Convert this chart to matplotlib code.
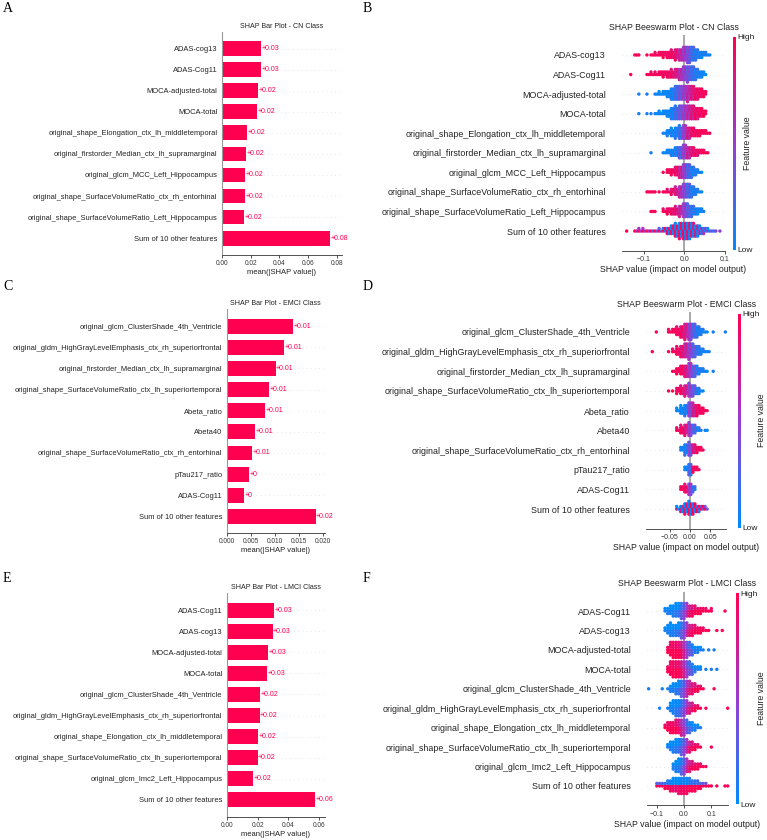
import numpy as np
import matplotlib
matplotlib.use("Agg")
import matplotlib.pyplot as plt
from matplotlib.colors import LinearSegmentedColormap
from matplotlib.cm import ScalarMappable

plt.rcParams['font.family'] = ['Liberation Sans', 'DejaVu Sans']

RED = '#ff0051'
shap_cmap = LinearSegmentedColormap.from_list('shap_rb', ['#008bfb', '#9a3bd0', '#ff0052'])

# ---------------- data: bar plots (mean |SHAP|) ----------------
cn_bar_features = ['ADAS-cog13', 'ADAS-Cog11', 'MOCA-adjusted-total', 'MOCA-total',
                   'original_shape_Elongation_ctx_lh_middletemporal',
                   'original_firstorder_Median_ctx_lh_supramarginal',
                   'original_glcm_MCC_Left_Hippocampus',
                   'original_shape_SurfaceVolumeRatio_ctx_rh_entorhinal',
                   'original_shape_SurfaceVolumeRatio_Left_Hippocampus',
                   'Sum of 10 other features']
cn_bar_values = [0.0272, 0.0270, 0.0249, 0.0247, 0.0178, 0.0166, 0.0161, 0.0159, 0.0157, 0.0752]

emci_bar_features = ['original_glcm_ClusterShade_4th_Ventricle',
                     'original_gldm_HighGrayLevelEmphasis_ctx_rh_superiorfrontal',
                     'original_firstorder_Median_ctx_lh_supramarginal',
                     'original_shape_SurfaceVolumeRatio_ctx_lh_superiortemporal',
                     'Abeta_ratio', 'Abeta40',
                     'original_shape_SurfaceVolumeRatio_ctx_rh_entorhinal',
                     'pTau217_ratio', 'ADAS-Cog11', 'Sum of 10 other features']
emci_bar_values = [0.01375, 0.0120, 0.0102, 0.00875, 0.0080, 0.0059, 0.00535, 0.00458, 0.0037, 0.01854]

lmci_bar_features = ['ADAS-Cog11', 'ADAS-cog13', 'MOCA-adjusted-total', 'MOCA-total',
                     'original_glcm_ClusterShade_4th_Ventricle',
                     'original_gldm_HighGrayLevelEmphasis_ctx_rh_superiorfrontal',
                     'original_shape_Elongation_ctx_lh_middletemporal',
                     'original_shape_SurfaceVolumeRatio_ctx_lh_superiortemporal',
                     'original_glcm_Imc2_Left_Hippocampus', 'Sum of 10 other features']
lmci_bar_values = [0.0308, 0.0297, 0.0269, 0.0260, 0.0215, 0.0213, 0.0202, 0.0200, 0.0172, 0.0574]

# ---------------- data: beeswarm, per row (first bin centre, counts per 0.01 bin, mean feature value per bin) ----------------
cn_swarm = [
    (-0.12, [2, 1, 0, 1, 2, 3, 4, 5, 6, 7, 9, 10, 12, 14, 12, 9, 6, 4, 2],
     [1, 1, 1, 1, 1, 1, 1, .95, .95, .95, .85, .7, .55, .4, .2, .1, .05, .05, .05]),
    (-0.13, [1, 0, 0, 0, 2, 3, 3, 4, 5, 6, 7, 8, 10, 12, 13, 12, 9, 6, 3],
     [1, 1, 1, 1, 1, 1, 1, 1, .95, .95, .9, .8, .65, .5, .35, .2, .1, .05, .05]),
    (-0.11, [1, 0, 1, 0, 2, 3, 4, 6, 10, 12, 12, 12, 13, 12, 10, 8, 5],
     [0, 0, 0, 0, 0, 0, 0, 0, .05, .2, .35, .5, .65, .8, .9, .95, 1]),
    (-0.11, [1, 0, 1, 1, 2, 3, 4, 6, 10, 11, 12, 12, 12, 12, 10, 8, 5],
     [0, 0, 0, 0, 0, 0, 0, 0, .05, .2, .35, .5, .65, .8, .9, .95, 1]),
    (-0.05, [2, 5, 7, 9, 11, 12, 10, 8, 6, 5, 4, 2],
     [0, 0, .05, .05, .2, .5, .75, .9, .95, 1, 1, 1]),
    (-0.08, [1, 0, 0, 2, 4, 6, 8, 10, 12, 10, 8, 6, 4, 3, 1],
     [0, 0, 0, 0, 0, .05, .1, .25, .5, .7, .85, .9, .95, 1, 1]),
    (-0.05, [1, 4, 5, 8, 10, 12, 12, 9, 5, 2],
     [1, 1, 1, .9, .75, .5, .25, .1, .05, 0]),
    (-0.09, [2, 2, 1, 1, 2, 3, 5, 7, 10, 12, 12, 9, 5, 2],
     [1, 1, 1, 1, 1, .95, .9, .8, .65, .45, .25, .1, .05, 0]),
    (-0.08, [2, 1, 0, 3, 5, 6, 7, 9, 12, 11, 9, 6, 4, 1],
     [1, 1, 1, 1, .95, .9, .85, .7, .5, .3, .15, .05, 0, 0]),
    (-0.14, [1, 0, 2, 3, 3, 2, 2, 2, 3, 4, 6, 8, 11, 13, 14, 14, 12, 10, 7, 5, 3, 2, 1, 1],
     [1, 1, 1, 1, 1, 1, .8, .8, .75, .6, .5, .5, .5, .5, .5, .45, .4, .35, .2, .1, .05, .05, 0, 0]),
]
cn_mix = [0.08] * 9 + [0.45]

emci_swarm = [
    (-0.08, [1, 0, 0, 3, 4, 7, 10, 13, 14, 12, 9, 5, 2, 0, 1, 0, 0, 1],
     [1, 1, 1, 1, 1, .95, .9, .75, .5, .25, .1, .05, 0, 0, 0, 0, 0, 0]),
    (-0.09, [1, 0, 0, 0, 1, 3, 7, 10, 12, 13, 11, 8, 5, 2, 1],
     [1, 1, 1, 1, 1, 1, .95, .85, .7, .5, .3, .15, .05, 0, 0]),
    (-0.04, [2, 5, 8, 10, 12, 10, 7, 4, 2, 0, 1],
     [1, 1, .95, .8, .55, .3, .15, .05, 0, 0, 0]),
    (-0.05, [1, 1, 5, 7, 9, 11, 9, 6, 2],
     [1, 1, .95, .9, .75, .5, .3, .1, 0]),
    (-0.03, [3, 7, 9, 12, 11, 9, 6, 2],
     [0, 0, .1, .45, .75, .9, 1, 1]),
    (-0.03, [3, 7, 9, 11, 8, 4, 1, 2],
     [1, .95, .8, .5, .25, .1, 0, 0]),
    (-0.02, [4, 9, 11, 8, 5, 3],
     [0, .1, .4, .8, .95, 1]),
    (-0.01, [4, 10, 5, 3],
     [0, .2, .95, 1]),
    (-0.02, [4, 7, 10, 5],
     [1, .9, .5, .15]),
    (-0.03, [3, 6, 9, 11, 9, 6, 4, 3],
     [.3, .35, .45, .5, .55, .65, .8, .85]),
]
emci_mix = [0.08] * 9 + [0.45]

lmci_swarm = [
    (-0.07, [2, 3, 4, 5, 6, 6, 7, 7, 6, 5, 5, 4, 3, 3, 2, 2, 1, 2, 0, 0, 0, 0, 1],
     [0, 0, 0, 0, .05, .1, .2, .4, .6, .8, .9, .95, 1, 1, 1, 1, 1, 1, 1, 1, 1, 1, 1]),
    (-0.07, [2, 4, 6, 5, 5, 6, 7, 7, 6, 5, 5, 4, 3, 3, 2, 1, 1, 0, 0, 1, 0, 1],
     [0, 0, 0, 0, .05, .1, .2, .4, .6, .8, .9, .95, 1, 1, 1, 1, 1, 1, 1, 1, 1, 1]),
    (-0.06, [3, 6, 7, 7, 7, 7, 7, 7, 6, 5, 3, 3, 2, 1, 0, 1, 0, 1],
     [1, 1, 1, 1, .95, .85, .65, .45, .3, .15, .05, 0, 0, 0, 0, 0, 0, 0]),
    (-0.06, [3, 6, 7, 7, 7, 7, 7, 7, 6, 5, 3, 2, 2, 0, 1, 0, 1, 0, 1],
     [1, 1, 1, 1, .95, .85, .65, .45, .3, .15, .05, 0, 0, 0, 0, 0, 0, 0, 0]),
    (-0.13, [1, 0, 0, 0, 0, 1, 0, 1, 3, 4, 5, 6, 7, 7, 7, 6, 5, 4, 3, 2, 1, 0, 0, 0, 1],
     [0, 0, 0, 0, 0, 0, 0, 0, 0, 0, .05, .1, .2, .4, .6, .75, .85, .9, .95, 1, 1, 1, 1, 1, 1]),
    (-0.09, [1, 0, 0, 1, 4, 6, 7, 7, 7, 7, 6, 5, 4, 3, 2, 1, 0, 1, 0, 0, 0, 0, 0, 0, 0, 1],
     [0, 0, 0, 0, 0, 0, .05, .1, .2, .4, .6, .75, .85, .95, 1, 1, 1, 1, 1, 1, 1, 1, 1, 1, 1, 1]),
    (-0.07, [2, 4, 5, 5, 6, 6, 7, 7, 6, 5, 4, 3, 2, 1],
     [1, 1, 1, 1, .95, .85, .7, .5, .3, .15, .05, 0, 0, 0]),
    (-0.06, [2, 4, 5, 6, 6, 7, 7, 6, 5, 4, 3, 2, 1, 0, 0, 0, 1],
     [0, 0, 0, .05, .1, .2, .4, .6, .8, .9, .95, 1, 1, 1, 1, 1, 1]),
    (-0.04, [3, 5, 6, 7, 7, 6, 5, 4, 3, 3, 2, 1, 1],
     [0, 0, .05, .15, .4, .65, .8, .9, .95, 1, 1, 1, 1]),
    (-0.10, [2, 2, 2, 3, 4, 5, 6, 6, 7, 7, 7, 7, 6, 5, 5, 4, 3, 2, 2, 1, 1, 0, 1, 0, 0, 1, 1],
     [.75, .7, .7, .6, .55, .5, .45, .45, .45, .5, .5, .5, .55, .6, .6, .65, .7, .75, .8, .8, .85, .9, .9, .9, .9, .95, .95]),
]
lmci_mix = [0.08] * 9 + [0.45]

W, H = 767, 840
fig = plt.figure(figsize=(W / 100, H / 100), dpi=100)


def px_axes(l, t, r, b):
    return fig.add_axes([l / W, 1 - b / H, (r - l) / W, (b - t) / H])


def bar_panel(box, features, values, title, xmax, ticks, fmt):
    ax = px_axes(*box)
    n = len(features)
    y = np.arange(n)[::-1]
    for yy in y:
        ax.axhline(yy, color='#cccccc', lw=0.5, dashes=(1, 5), zorder=-1)
    ax.barh(y, values, height=0.7, color=RED, zorder=2)
    for yy, v in zip(y, values):
        s = ('%+.2f' % v).rstrip('0').rstrip('.')
        ax.text(v + xmax * 0.006, yy, s, color=RED, fontsize=5, va='center', ha='left')
    ax.set_yticks(y)
    ax.set_yticklabels(features, fontsize=5.4, color='#222222')
    ax.set_ylim(-0.8, n - 0.2)
    ax.set_xlim(0, xmax)
    ax.set_xticks(ticks)
    ax.set_xticklabels([fmt % t for t in ticks], fontsize=4.7)
    ax.tick_params(axis='y', length=0, pad=3)
    ax.tick_params(axis='x', length=2, width=0.6, pad=1.5, colors='#333333')
    for sp in ['top', 'right']:
        ax.spines[sp].set_visible(False)
    ax.spines['left'].set_color('#999999')
    ax.spines['left'].set_linewidth(0.8)
    ax.spines['bottom'].set_color('#333333')
    ax.spines['bottom'].set_linewidth(0.6)
    ax.set_xlabel('mean(|SHAP value|)', fontsize=5.5, labelpad=1.5, color='#222222')
    ax.set_title(title, fontsize=5.1, pad=3, color='#222222')
    return ax


def swarm_panel(box, features, rows, mix, title, xlim, ticks, labels, ncol, cbar_x, flabel_x):
    ax = px_axes(*box)
    n = len(features)
    step = 0.01
    d = 0.13
    for i, (x0, counts, colours) in enumerate(rows):
        ypos = n - 1 - i
        ax.axhline(ypos, color='#cccccc', lw=0.5, dashes=(1, 5), zorder=-1)
        xs, ys, cs = [], [], []
        for j, (cnt, c) in enumerate(zip(counts, colours)):
            xc = x0 + j * step
            for k in range(cnt):
                col = k % ncol
                lev = k // ncol
                off = ((lev + 1) // 2) * d * (1 if lev % 2 else -1)
                sign = 1 if (col + lev) % 2 == 0 else -1
                xs.append(xc + (col - (ncol - 1) / 2) * step / ncol)
                ys.append(ypos + off)
                cs.append(min(1, max(0, c + sign * mix[i])))
        ax.scatter(xs, ys, c=cs, cmap=shap_cmap, vmin=0, vmax=1, s=6, lw=0,
                   zorder=3, clip_on=False)
    ax.axvline(0, color='#999999', lw=1.2, zorder=-1)
    ax.set_ylim(-1, n)
    ax.set_xlim(*xlim)
    ax.set_yticks(np.arange(n)[::-1])
    ax.set_yticklabels(features, fontsize=6.4, color='#222222')
    ax.set_xticks(ticks)
    ax.set_xticklabels(labels, fontsize=5)
    ax.tick_params(axis='y', length=0, pad=11.5)
    ax.tick_params(axis='x', length=2.5, width=0.6, pad=1.5, colors='#333333')
    for sp in ['top', 'right', 'left']:
        ax.spines[sp].set_visible(False)
    ax.spines['bottom'].set_color('#333333')
    ax.spines['bottom'].set_linewidth(0.6)
    ax.set_xlabel('SHAP value (impact on model output)', fontsize=6.3, labelpad=1.5, color='#222222')
    ax.set_title(title, fontsize=6.3, pad=4, color='#222222')

    l, t, r, b = box
    cax = px_axes(cbar_x, t + 1.5, cbar_x + 2.5, b - 1)
    cb = fig.colorbar(ScalarMappable(cmap=shap_cmap, norm=plt.Normalize(0, 1)), cax=cax, ticks=[0, 1])
    cb.set_ticklabels(['Low', 'High'])
    cb.ax.tick_params(labelsize=6, length=0, pad=1.5, colors='#222222')
    cb.outline.set_visible(False)
    fig.text(flabel_x / W, 1 - ((t + b) / 2) / H, 'Feature value', rotation=90,
             ha='center', va='center', fontsize=6.3, color='#222222')
    return ax


bar_panel((221.7, 31.7, 342, 255), cn_bar_features, cn_bar_values,
          'SHAP Bar Plot - CN Class', 0.0833, [0, 0.02, 0.04, 0.06, 0.08], '%.2f')
bar_panel((226.7, 309.3, 325, 533.3), emci_bar_features, emci_bar_values,
          'SHAP Bar Plot - EMCI Class', 0.0205, [0, 0.005, 0.01, 0.015, 0.02], '%.3f')
bar_panel((226.7, 593.3, 325, 816.7), lmci_bar_features, lmci_bar_values,
          'SHAP Bar Plot - LMCI Class', 0.0637, [0, 0.02, 0.04, 0.06], '%.2f')

swarm_panel((622, 35.4, 725, 250.6), cn_bar_features, cn_swarm, cn_mix,
            'SHAP Beeswarm Plot - CN Class', (-0.154, 0.1), [-0.1, 0, 0.1],
            ['\u22120.1', '0.0', '0.1'], 2, 733, 748)
swarm_panel((646, 312.3, 726.4, 528.7), emci_bar_features, emci_swarm, emci_mix,
            'SHAP Beeswarm Plot - EMCI Class', (-0.108, 0.09), [-0.05, 0, 0.05],
            ['\u22120.05', '0.00', '0.05'], 2, 738, 761)
swarm_panel((647, 591.6, 727.7, 805.4), lmci_bar_features, lmci_swarm, lmci_mix,
            'SHAP Beeswarm Plot - LMCI Class', (-0.136, 0.16), [-0.1, 0, 0.1],
            ['\u22120.1', '0.0', '0.1'], 1, 736, 761)

for letter, x, y in [('A', 3, 9), ('B', 363, 9), ('C', 3, 287), ('D', 363, 287), ('E', 3, 578), ('F', 363, 578)]:
    fig.text(x / W, 1 - y / H, letter, fontsize=10, family='Liberation Serif', va='center', ha='left')

fig.savefig('out.png', dpi=100)
